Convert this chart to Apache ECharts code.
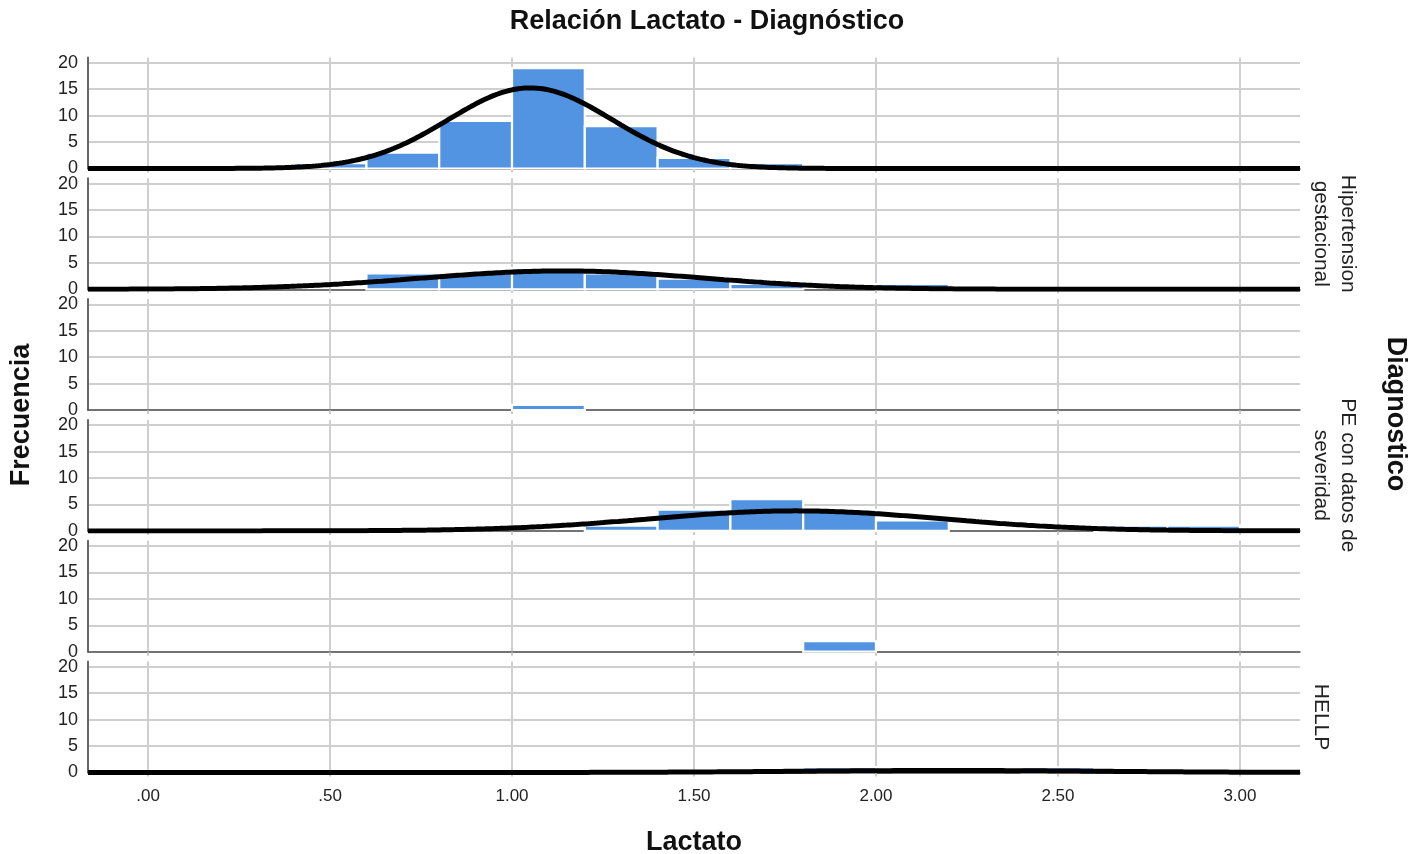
<!DOCTYPE html>
<html>
<head>
<meta charset="utf-8">
<title>Relación Lactato - Diagnóstico</title>
<script src="https://cdn.jsdelivr.net/npm/echarts@6/dist/echarts.min.js"></script>
<style>
  html, body { margin: 0; padding: 0; background: #fff; }
  #chart { width: 1421px; height: 854px; }
</style>
</head>
<body>
<div id="chart"></div>
<script>
// Lactate histogram bins (width 0.20), one row of counts per diagnosis panel
const binStarts = [0.4, 0.6, 0.8, 1.0, 1.2, 1.4, 1.6, 1.8, 2.0, 2.2, 2.4, 2.6, 2.8];
const binWidth = 0.2;
const countsP1 = [1, 3, 9, 19, 8, 2, 1, 0, 0, 0, 0, 0, 0];
const countsP2 = [0, 3, 3, 4, 3, 2, 1, 0, 1, 0, 0, 0, 0];
const countsP3 = [0, 0, 0, 1, 0, 0, 0, 0, 0, 0, 0, 0, 0];
const countsP4 = [0, 0, 0, 0, 1, 4, 6, 4, 2, 0, 0, 1, 1];
const countsP5 = [0, 0, 0, 0, 0, 0, 0, 2, 0, 0, 0, 0, 0];
const countsP6 = [0, 0, 0, 0, 0, 0, 0, 1, 0, 0, 1, 0, 0];
const panelCounts = [countsP1, countsP2, countsP3, countsP4, countsP5, countsP6];

// Fitted normal curve per panel (null where no curve is drawn)
const normalMean = [1.05, 1.14, null, 1.78, null, 2.20];
const normalSd   = [0.225, 0.39, null, 0.40, null, 0.42];
const normalN    = [43, 17, null, 19, null, 2];

// Panel captions (rotated, right side); empty panels carry no caption
const panelLabels = [[], ['Hipertension', 'gestacional'], [], ['PE con datos de', 'severidad'], [], ['HELLP']];

// Axis ticks
const xTickValues = [0, 0.5, 1.0, 1.5, 2.0, 2.5, 3.0];
const xTickLabels = ['.00', '.50', '1.00', '1.50', '2.00', '2.50', '3.00'];
const yTickValues = [0, 5, 10, 15, 20];

const X_MIN = -0.165, X_MAX = 3.165, Y_MAX = 21;
const FONT = '"Liberation Sans", Arial, Helvetica, sans-serif';
const BAR_COLOR = '#5294e2';
const GRID_COLOR = '#cfcfcf';

const GRID_LEFT = 88, GRID_RIGHT = 121, GRID_TOP0 = 57.5, GRID_H = 111, GRID_STEP = 120.8;

const chart = echarts.init(document.getElementById('chart'));

const grids = [], xAxes = [], yAxes = [], series = [], graphics = [];

panelCounts.forEach(function (counts, i) {
  const top = GRID_TOP0 + i * GRID_STEP;
  const last = i === panelCounts.length - 1;
  grids.push({ left: GRID_LEFT, right: GRID_RIGHT, top: top, height: GRID_H, containLabel: false });

  xAxes.push({
    type: 'value', gridIndex: i, min: X_MIN, max: X_MAX,
    axisLine: { show: true, onZero: false, lineStyle: { color: '#555', width: 1.5 } },
    axisTick: { show: true, length: 4, customValues: xTickValues, lineStyle: { color: '#bbb', width: 1.5 } },
    axisLabel: {
      show: last, customValues: xTickValues, margin: 15,
      fontFamily: FONT, fontSize: 17, color: '#222',
      formatter: function (v) {
        const k = xTickValues.findIndex(function (t) { return Math.abs(t - v) < 1e-6; });
        return k >= 0 ? xTickLabels[k] : '';
      }
    },
    splitLine: { show: true, lineStyle: { color: GRID_COLOR, width: 2 } }
  });

  yAxes.push({
    type: 'value', gridIndex: i, min: 0, max: Y_MAX,
    axisLine: { show: true, onZero: false, lineStyle: { color: '#666', width: 2 } },
    axisTick: { show: false, customValues: yTickValues },
    axisLabel: { customValues: yTickValues, margin: 10, fontFamily: FONT, fontSize: 18, color: '#222' },
    splitLine: { show: true, lineStyle: { color: GRID_COLOR, width: 2 } }
  });

  const barData = [];
  binStarts.forEach(function (s, k) {
    if (counts[k] > 0) barData.push([s, s + binWidth, counts[k]]);
  });

  series.push({
    type: 'custom', xAxisIndex: i, yAxisIndex: i, z: 2,
    data: barData,
    renderItem: function (params, api) {
      const p0 = api.coord([api.value(0), api.value(2)]);
      const p1 = api.coord([api.value(1), 0]);
      return {
        type: 'rect',
        shape: { x: p0[0], y: p0[1], width: p1[0] - p0[0], height: p1[1] - p0[1] },
        style: { fill: BAR_COLOR, stroke: '#fff', lineWidth: 2.2 }
      };
    },
    silent: true
  });

  if (normalMean[i] !== null) {
    const m = normalMean[i], sd = normalSd[i], n = normalN[i];
    const pts = [];
    const steps = 400;
    for (let s = 0; s <= steps; s++) {
      const x = X_MIN + (X_MAX - X_MIN) * s / steps;
      const z = (x - m) / sd;
      pts.push([x, n * binWidth * Math.exp(-0.5 * z * z) / (sd * Math.sqrt(2 * Math.PI))]);
    }
    series.push({
      type: 'line', xAxisIndex: i, yAxisIndex: i, z: 4,
      data: pts, showSymbol: false, smooth: false, clip: true, silent: true,
      lineStyle: { color: '#000', width: 5 }
    });
  }

  const lines = panelLabels[i];
  const cy = top + GRID_H / 2;
  // last line sits nearest the plot; earlier lines step outward to the right
  lines.forEach(function (txt, k) {
    const offset = (lines.length - 1 - k) * 27;
    graphics.push({
      type: 'text', x: 1321 + offset, y: cy, rotation: -Math.PI / 2,
      style: { text: txt, fontFamily: FONT, fontSize: 21, fill: '#222', align: 'center', verticalAlign: 'middle' }
    });
  });
});

graphics.push(
  { type: 'text', x: 707, y: 22, style: { text: 'Relación Lactato - Diagnóstico', fontFamily: FONT, fontSize: 27, fontWeight: 'bold', fill: '#111', align: 'center', verticalAlign: 'middle' } },
  { type: 'text', x: 694, y: 843, style: { text: 'Lactato', fontFamily: FONT, fontSize: 27, fontWeight: 'bold', fill: '#111', align: 'center', verticalAlign: 'middle' } },
  { type: 'text', x: 22, y: 415, rotation: Math.PI / 2, style: { text: 'Frecuencia', fontFamily: FONT, fontSize: 27, fontWeight: 'bold', fill: '#111', align: 'center', verticalAlign: 'middle' } },
  { type: 'text', x: 1395, y: 414, rotation: -Math.PI / 2, style: { text: 'Diagnostico', fontFamily: FONT, fontSize: 27, fontWeight: 'bold', fill: '#111', align: 'center', verticalAlign: 'middle' } }
);

chart.setOption({
  backgroundColor: '#fff',
  animation: false,
  grid: grids,
  xAxis: xAxes,
  yAxis: yAxes,
  series: series,
  graphic: graphics
});
</script>
</body>
</html>
